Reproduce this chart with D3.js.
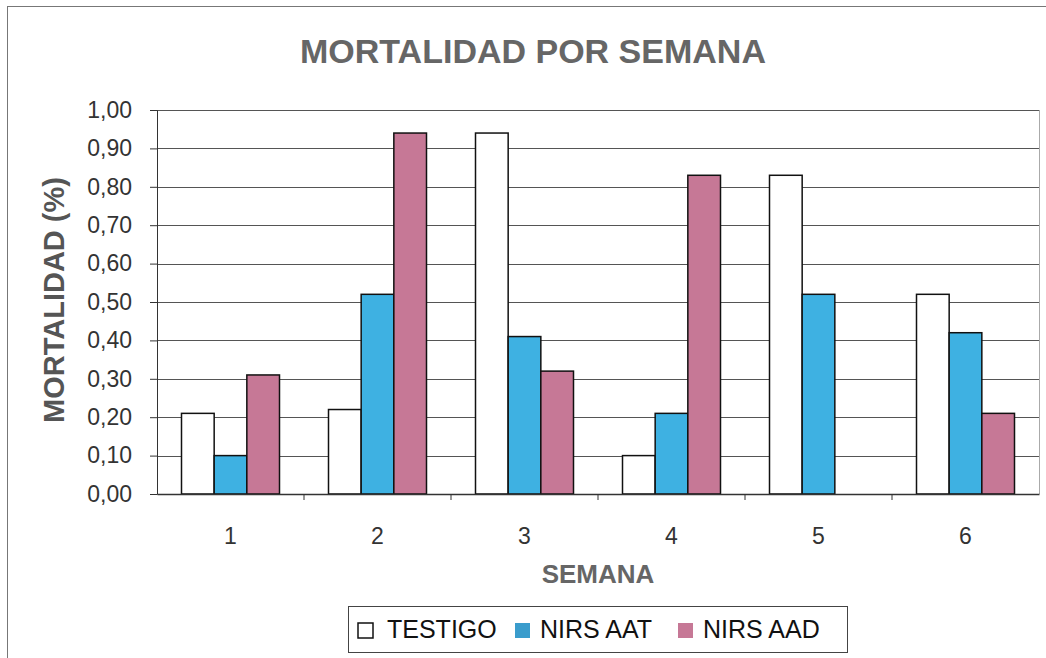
<!DOCTYPE html>
<html>
<head>
<meta charset="utf-8">
<script src="https://cdn.jsdelivr.net/npm/d3@7"></script>
<style>
  body { margin: 0; background: #fff; }
  svg { font-family: "Liberation Sans", Arial, sans-serif; }
</style>
</head>
<body>
<div id="plotarea"></div>
<script>
// data
var semanas = ['1', '2', '3', '4', '5', '6'];
var series = ['TESTIGO', 'NIRS AAT', 'NIRS AAD'];
var testigo = [0.21, 0.22, 0.94, 0.10, 0.83, 0.52];
var nirsAAT = [0.10, 0.52, 0.41, 0.21, 0.52, 0.42];
var nirsAAD = [0.31, 0.94, 0.32, 0.83, 0.00, 0.21];
var yTicks = [0, 0.1, 0.2, 0.3, 0.4, 0.5, 0.6, 0.7, 0.8, 0.9, 1.0];
var colors = ['#ffffff', '#3eb1e2', '#c67896'];

var W = 1046, H = 658;
var plotLeft = 157, plotRight = 1039, plotTop = 110, plotBottom = 494;

var svg = d3.select('#plotarea').append('svg')
  .attr('width', W).attr('height', H);

// outer frame
svg.append('rect')
  .attr('x', 7.5).attr('y', 6.5)
  .attr('width', W + 10).attr('height', H + 10)
  .attr('fill', 'none').attr('stroke', '#777').attr('stroke-width', 1);

var x0 = d3.scaleBand().domain(semanas).range([plotLeft, plotRight])
  .paddingInner(1 / 3).paddingOuter(1 / 6);
var x1 = d3.scaleBand().domain(series).range([0, x0.bandwidth()]);
var y = d3.scaleLinear().domain([0, 1]).range([plotBottom, plotTop]);

// gridlines
svg.append('g').selectAll('line').data(yTicks.slice(1)).enter().append('line')
  .attr('x1', plotLeft).attr('x2', plotRight)
  .attr('y1', function(d) { return Math.round(y(d)) + 0.5; })
  .attr('y2', function(d) { return Math.round(y(d)) + 0.5; })
  .attr('stroke', '#555').attr('stroke-width', 1);

// faint right edge of the plot area
svg.append('line')
  .attr('x1', plotRight + 0.5).attr('x2', plotRight + 0.5)
  .attr('y1', plotTop).attr('y2', plotBottom)
  .attr('stroke', '#aaa');

// bars
var rows = semanas.map(function(s, i) {
  return { semana: s, values: [testigo[i], nirsAAT[i], nirsAAD[i]] };
});

var groups = svg.append('g').selectAll('g').data(rows).enter().append('g')
  .attr('transform', function(d) { return 'translate(' + x0(d.semana) + ',0)'; });

groups.selectAll('rect').data(function(d) {
    return d.values
      .map(function(v, k) { return { key: series[k], v: v, k: k }; })
      .filter(function(e) { return e.v > 0; });
  })
  .enter().append('rect')
  .attr('x', function(d) { return x1(d.key); })
  .attr('y', function(d) { return y(d.v); })
  .attr('width', x1.bandwidth())
  .attr('height', function(d) { return plotBottom - y(d.v); })
  .attr('fill', function(d) { return colors[d.k]; })
  .attr('stroke', '#111').attr('stroke-width', 1.5);

// y axis
var yAxis = svg.append('g')
  .attr('transform', 'translate(' + plotLeft + ',0)')
  .call(d3.axisLeft(y).tickValues(yTicks).tickSize(7).tickPadding(18)
    .tickFormat(function(d) { return d.toFixed(2).replace('.', ','); }));
yAxis.select('.domain').attr('stroke', '#333');
yAxis.selectAll('.tick line').attr('stroke', '#333');
yAxis.selectAll('text').attr('font-size', 23).attr('fill', '#333')
  .attr('font-family', 'Liberation Sans, Arial, sans-serif');

// x axis
var xAxis = svg.append('g')
  .attr('transform', 'translate(0,' + plotBottom + ')')
  .call(d3.axisBottom(x0).tickSize(0).tickPadding(34));
xAxis.select('.domain').attr('stroke', '#333').attr('stroke-width', 1.5);
xAxis.selectAll('text').attr('font-size', 23).attr('fill', '#333')
  .attr('font-family', 'Liberation Sans, Arial, sans-serif');

// small tick marks between categories
var step = x0.step();
svg.append('g').selectAll('line').data(semanas.slice(1)).enter().append('line')
  .attr('x1', function(d) { return x0(d) - step / 6; })
  .attr('x2', function(d) { return x0(d) - step / 6; })
  .attr('y1', plotBottom).attr('y2', plotBottom + 6)
  .attr('stroke', '#333');

// titles
svg.append('text')
  .attr('x', 533).attr('y', 63)
  .attr('text-anchor', 'middle')
  .attr('font-size', 34).attr('font-weight', 'bold').attr('fill', '#666')
  .text('MORTALIDAD POR SEMANA');

svg.append('text')
  .attr('transform', 'translate(64,300) rotate(-90)')
  .attr('text-anchor', 'middle')
  .attr('font-size', 29).attr('font-weight', 'bold').attr('fill', '#555')
  .text('MORTALIDAD (%)');

svg.append('text')
  .attr('x', 598).attr('y', 583)
  .attr('text-anchor', 'middle')
  .attr('font-size', 26).attr('font-weight', 'bold').attr('fill', '#666')
  .text('SEMANA');

// legend
var legend = svg.append('g');
legend.append('rect')
  .attr('x', 348.5).attr('y', 606.5).attr('width', 499).attr('height', 46)
  .attr('fill', '#fff').attr('stroke', '#444');

var legendX = [358, 515, 678];
var items = legend.selectAll('g').data(series).enter().append('g')
  .attr('transform', function(d, i) { return 'translate(' + legendX[i] + ',623)'; });
items.append('rect')
  .attr('width', 15).attr('height', 15)
  .attr('fill', function(d, i) { return i === 1 ? '#3a9ccc' : colors[i]; })
  .attr('stroke', function(d, i) { return i === 0 ? '#111' : 'none'; })
  .attr('stroke-width', 1.5);
items.append('text')
  .attr('x', function(d, i) { return i === 0 ? 29 : 25; }).attr('y', 15)
  .attr('font-size', 25).attr('fill', '#111')
  .text(function(d) { return d; });
</script>
</body>
</html>
